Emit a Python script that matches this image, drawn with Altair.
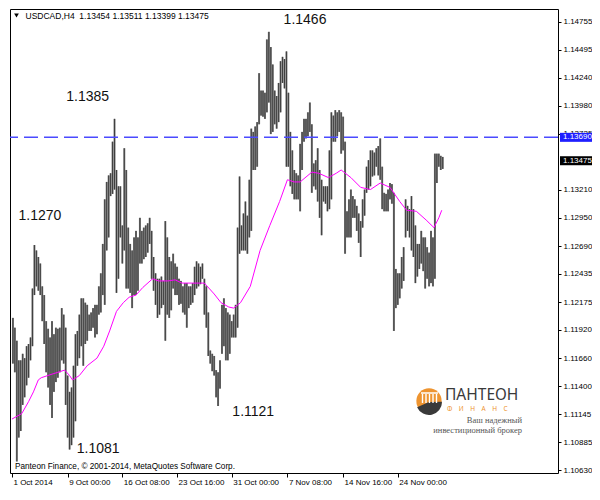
import altair as alt
import pandas as pd

# ---- data (H4 bars, high / low) ----
HIGH = [
    1.1203, 1.1194, 1.1182, 1.1164, 1.1164, 1.1170, 1.1166, 1.1177, 1.1179, 1.1185,
    1.1230, 1.1270, 1.1265, 1.1259, 1.1253, 1.1232, 1.1224, 1.1200, 1.1193, 1.1185,
    1.1200, 1.1188, 1.1194, 1.1193, 1.1194, 1.1212, 1.1206, 1.1194, 1.1150, 1.1135,
    1.1139, 1.1159, 1.1188, 1.1191, 1.1206, 1.1221, 1.1221, 1.1217, 1.1215, 1.1206,
    1.1208, 1.1212, 1.1215, 1.1215, 1.1232, 1.1244, 1.1271, 1.1312, 1.1328, 1.1334,
    1.1336, 1.1365, 1.1386, 1.1339, 1.1324, 1.1324, 1.1288, 1.1359, 1.1339, 1.1286,
    1.1271, 1.1265, 1.1277, 1.1283, 1.1277, 1.1295, 1.1283, 1.1286, 1.1288, 1.1290,
    1.1295, 1.1283, 1.1259, 1.1244, 1.1239, 1.1239, 1.1241, 1.1237, 1.1292, 1.1277,
    1.1259, 1.1255, 1.1262, 1.1253, 1.1250, 1.1239, 1.1237, 1.1232, 1.1235, 1.1235,
    1.1232, 1.1232, 1.1235, 1.1250, 1.1255, 1.1253, 1.1250, 1.1253, 1.1239, 1.1232,
    1.1208, 1.1173, 1.1170, 1.1168, 1.1155, 1.1153, 1.1164, 1.1215, 1.1221, 1.1212,
    1.1208, 1.1206, 1.1200, 1.1206, 1.1215, 1.1286, 1.1333, 1.1288, 1.1299, 1.1310,
    1.1297, 1.1330, 1.1377, 1.1374, 1.1379, 1.1383, 1.1428, 1.1412, 1.1412, 1.1410,
    1.1459, 1.1466, 1.1452, 1.1436, 1.1412, 1.1407, 1.1419, 1.1439, 1.1443, 1.1441,
    1.1448, 1.1410, 1.1374, 1.1357, 1.1339, 1.1336, 1.1334, 1.1363, 1.1374, 1.1386,
    1.1386, 1.1392, 1.1401, 1.1381, 1.1345, 1.1348, 1.1359, 1.1339, 1.1330, 1.1324,
    1.1324, 1.1324, 1.1357, 1.1392, 1.1389, 1.1394, 1.1392, 1.1394, 1.1392, 1.1388,
    1.1365, 1.1301, 1.1312, 1.1321, 1.1315, 1.1312, 1.1306, 1.1299, 1.1292, 1.1312,
    1.1321, 1.1342, 1.1348, 1.1357, 1.1357, 1.1355, 1.1359, 1.1361, 1.1368, 1.1342,
    1.1318, 1.1317, 1.1321, 1.1327, 1.1326, 1.1318, 1.1248, 1.1244, 1.1244, 1.1259,
    1.1268, 1.1312, 1.1306, 1.1303, 1.1315, 1.1303, 1.1288, 1.1271, 1.1271, 1.1283,
    1.1277, 1.1277, 1.1268, 1.1263, 1.1283, 1.1277, 1.1354, 1.1354, 1.1354, 1.1352,
    1.1351,
]
LOW = [
    1.1161, 1.1153, 1.1071, 1.1093, 1.1099, 1.1123, 1.1130, 1.1141, 1.1148, 1.1164,
    1.1177, 1.1224, 1.1232, 1.1228, 1.1224, 1.1200, 1.1179, 1.1153, 1.1139, 1.1123,
    1.1111, 1.1135, 1.1144, 1.1148, 1.1153, 1.1164, 1.1161, 1.1123, 1.1093, 1.1082,
    1.1086, 1.1093, 1.1108, 1.1159, 1.1166, 1.1177, 1.1159, 1.1179, 1.1182, 1.1191,
    1.1191, 1.1194, 1.1185, 1.1188, 1.1206, 1.1208, 1.1224, 1.1215, 1.1265, 1.1277,
    1.1315, 1.1317, 1.1321, 1.1226, 1.1239, 1.1277, 1.1253, 1.1265, 1.1230, 1.1230,
    1.1226, 1.1212, 1.1224, 1.1224, 1.1228, 1.1253, 1.1253, 1.1257, 1.1259, 1.1263,
    1.1271, 1.1239, 1.1228, 1.1215, 1.1203, 1.1206, 1.1212, 1.1215, 1.1182, 1.1206,
    1.1203, 1.1210, 1.1230, 1.1224, 1.1224, 1.1215, 1.1216, 1.1208, 1.1206, 1.1194,
    1.1212, 1.1215, 1.1217, 1.1224, 1.1230, 1.1232, 1.1234, 1.1239, 1.1206, 1.1194,
    1.1168, 1.1161, 1.1154, 1.1150, 1.1130, 1.1122, 1.1138, 1.1170, 1.1177, 1.1164,
    1.1164, 1.1170, 1.1185, 1.1185, 1.1185, 1.1194, 1.1262, 1.1265, 1.1265, 1.1265,
    1.1262, 1.1277, 1.1283, 1.1339, 1.1339, 1.1342, 1.1381, 1.1389, 1.1388, 1.1386,
    1.1392, 1.1401, 1.1372, 1.1374, 1.1381, 1.1377, 1.1383, 1.1392, 1.1419, 1.1414,
    1.1342, 1.1342, 1.1324, 1.1317, 1.1312, 1.1312, 1.1312, 1.1301, 1.1339, 1.1365,
    1.1368, 1.1370, 1.1374, 1.1318, 1.1324, 1.1321, 1.1310, 1.1295, 1.1279, 1.1310,
    1.1308, 1.1301, 1.1303, 1.1312, 1.1365, 1.1365, 1.1370, 1.1374, 1.1354, 1.1357,
    1.1262, 1.1277, 1.1277, 1.1277, 1.1295, 1.1295, 1.1283, 1.1272, 1.1259, 1.1286,
    1.1297, 1.1318, 1.1321, 1.1324, 1.1333, 1.1334, 1.1342, 1.1334, 1.1330, 1.1303,
    1.1301, 1.1301, 1.1301, 1.1312, 1.1308, 1.1191, 1.1212, 1.1215, 1.1221, 1.1230,
    1.1237, 1.1277, 1.1283, 1.1277, 1.1265, 1.1259, 1.1235, 1.1241, 1.1248, 1.1253,
    1.1246, 1.1230, 1.1239, 1.1232, 1.1235, 1.1232, 1.1239, 1.1327, 1.1342, 1.1339,
    1.1340,
]

# moving average (magenta), sampled along the bar index
MA_POS = [
    -0.5, 4.5, 8, 10.5, 13, 14.5, 19.5, 23, 26.5, 29,
    30.5, 34, 38, 43, 46.5, 49.5, 53, 56.5, 59.5, 63,
    66.5, 71.5, 74.5, 79.5, 83, 86.5, 91.5, 98, 103, 106.5,
    110.5, 113, 116.5, 121.5, 126.5, 131.5, 136.5, 140.5, 144, 147,
    153, 156.5, 161.5, 165.5, 168, 173, 178, 183, 188, 193,
    198, 201.5, 206.5, 211.5, 215.5, 218, 219.5,
]
MA_VAL = [
    1.1110, 1.1115, 1.1126, 1.1135, 1.1146, 1.1148, 1.1151, 1.1153, 1.1155, 1.1150,
    1.1146, 1.1150, 1.1159, 1.1166, 1.1177, 1.1191, 1.1209, 1.1217, 1.1222, 1.1224,
    1.1231, 1.1239, 1.1237, 1.1237, 1.1238, 1.1235, 1.1235, 1.1235, 1.1225, 1.1217,
    1.1213, 1.1212, 1.1217, 1.1232, 1.1265, 1.1288, 1.1310, 1.1330, 1.1328, 1.1328,
    1.1337, 1.1336, 1.1332, 1.1336, 1.1339, 1.1332, 1.1323, 1.1321, 1.1327, 1.1323,
    1.1310, 1.1302, 1.1301, 1.1293, 1.1286, 1.1295, 1.1302,
]

Y_TICKS = [1.14755, 1.14495, 1.14240, 1.13980, 1.13725, 1.13210, 1.12950, 1.12690,
           1.12435, 1.12175, 1.11920, 1.11660, 1.11400, 1.11145, 1.10885, 1.10630]
X_TICK_POS = [-0.5, 28, 56, 84, 112, 140.5, 169, 197]
X_TICK_LABELS = ["1 Oct 2014", "9 Oct 00:00", "16 Oct 08:00", "23 Oct 16:00",
                 "31 Oct 00:00", "7 Nov 08:00", "14 Nov 16:00", "24 Nov 00:00"]

LEVEL_PRICE = 1.13690
LAST_PRICE = 1.13475
BOX_LABELS = ["1.13690", "1.13475"]
BOX_COLORS = ["#1f1fff", "#000000"]

ANNOT_TEXT = ["1.1466", "1.1385", "1.1270", "1.1081", "1.1121"]
ANNOT_POS = [149.5, 38.25, 13.85, 43.6, 123]
ANNOT_PRICE = [1.14767, 1.14059, 1.12963, 1.10826, 1.11167]

HEADER = "USDCAD,H4\u00a0 1.13454 1.13511 1.13399 1.13475"
COPYRIGHT = "Panteon Finance, \u00a9 2001-2014, MetaQuotes Software Corp."

# ---- layout ----
W, H = 548, 464
X_DOMAIN = [-1.5, 279]
Y_DOMAIN = [1.10604, 1.14870]
FONT = "Liberation Sans"

xs = alt.Scale(domain=X_DOMAIN, nice=False, zero=False)
ys = alt.Scale(domain=Y_DOMAIN, nice=False, zero=False)

bars = pd.DataFrame({"i": list(range(len(HIGH))), "hi": HIGH, "lo": LOW})
ma = pd.DataFrame({"i": MA_POS, "v": MA_VAL})
ann = pd.DataFrame({"i": ANNOT_POS, "p": ANNOT_PRICE, "t": ANNOT_TEXT})

half = 4.5 * (Y_DOMAIN[1] - Y_DOMAIN[0]) / H
box_prices = [LEVEL_PRICE, LAST_PRICE]
boxes = pd.DataFrame({
    "p": box_prices,
    "top": [p + half for p in box_prices],
    "bot": [p - half for p in box_prices],
    "fill": BOX_COLORS,
    "t": BOX_LABELS,
})

label_expr = ("[" + ",".join("'%s'" % s for s in X_TICK_LABELS) + "][indexof(["
              + ",".join(str(v) for v in X_TICK_POS) + "], datum.value)]")

x_axis = alt.Axis(orient="bottom", values=X_TICK_POS, labelExpr=label_expr,
                  labelAlign="left", labelOffset=1, labelBaseline="top",
                  title=None, grid=False, domain=False, tickSize=4,
                  tickColor="black", labelColor="black", labelFont=FONT,
                  labelFontSize=8, labelPadding=1, labelOverlap=False,
                  labelFlush=False)
y_axis = alt.Axis(orient="right", values=Y_TICKS, format=".5f", title=None,
                  grid=False, domain=False, tickSize=3, tickColor="black",
                  labelColor="black", labelFont=FONT, labelFontSize=8,
                  labelPadding=2, labelOverlap=False, labelFlush=False)


def X(field):
    return alt.X(field, scale=xs, axis=x_axis, title=None)


def Y(field):
    return alt.Y(field, scale=ys, axis=y_axis, title=None)


bar_fill = alt.Chart(bars).mark_rule(color="#7c7c7c", strokeWidth=2).encode(
    x=X("i:Q"), y=Y("lo:Q"), y2="hi:Q")
bar_line = alt.Chart(bars).mark_rule(color="#2e2e2e", strokeWidth=0.8).encode(
    x=X("i:Q"), y=Y("lo:Q"), y2="hi:Q")

ma_layer = alt.Chart(ma).mark_line(color="#ff00ff", strokeWidth=1).encode(
    x=X("i:Q"), y=Y("v:Q"))

level_layer = alt.Chart(pd.DataFrame({"p": [LEVEL_PRICE]})).mark_rule(
    color="#4a4aff", strokeWidth=1.5, strokeDash=[14, 6]
).encode(y=Y("p:Q"))

box_layer = alt.Chart(boxes).mark_rect().encode(
    x=alt.value(550), x2=alt.value(582),
    y=Y("top:Q"), y2="bot:Q",
    color=alt.Color("fill:N", scale=None, legend=None),
)
box_text = alt.Chart(boxes).mark_text(
    align="left", baseline="middle", color="white", font=FONT, fontSize=8
).encode(x=alt.value(553), y=Y("p:Q"), text="t:N")

ann_layer = alt.Chart(ann).mark_text(
    font=FONT, fontSize=14, color="#111111", align="center", baseline="middle"
).encode(x=X("i:Q"), y=Y("p:Q"), text="t:N")

one = pd.DataFrame({"k": [0]})
arrow = alt.Chart(one).mark_point(shape="triangle-down", filled=True, color="black",
                                  size=22, opacity=1).encode(
    x=alt.value(6.5), y=alt.value(6.5))
header = alt.Chart(pd.DataFrame({"t": [HEADER]})).mark_text(
    align="left", baseline="middle", font=FONT, fontSize=8.5, color="black"
).encode(x=alt.value(15.5), y=alt.value(6.5), text="t:N")
copyright_ = alt.Chart(pd.DataFrame({"t": [COPYRIGHT]})).mark_text(
    align="left", baseline="middle", font=FONT, fontSize=8.2, color="black"
).encode(x=alt.value(5), y=alt.value(457.5), text="t:N")

# ---- logo (decoration) ----
logo_circle = alt.Chart(one).mark_point(shape="circle", filled=True, color="#ee9430",
                                        size=640, opacity=1).encode(
    x=alt.value(419), y=alt.value(392))
logo_base = alt.Chart(one).mark_arc(theta=1.55, theta2=4.3, radius=13, radius2=0,
                                    color="#3a3a3a").encode(
    x=alt.value(419), y=alt.value(393))
cols = pd.DataFrame({"px": [412.5, 416, 419.5, 423, 426.5]})
logo_cols = alt.Chart(cols).mark_rule(color="white", strokeWidth=1.4).encode(
    x=alt.X("px:Q", scale=None), y=alt.value(385), y2=alt.value(394))
logo_roof = alt.Chart(one).mark_rule(color="white", strokeWidth=1.5).encode(
    x=alt.value(411), x2=alt.value(428), y=alt.value(384))
logo_name = alt.Chart(pd.DataFrame({"t": ["ПАНТЕОН"]})).mark_text(
    align="left", baseline="middle", font="Noto Sans", fontSize=15.5, color="#3a3a3a"
).encode(x=alt.value(435), y=alt.value(386), text="t:N")
logo_sub = alt.Chart(pd.DataFrame({"t": ["Ф\u2003И\u2003Н\u2003А\u2003Н\u2003С"]})).mark_text(
    align="left", baseline="middle", font="Noto Sans", fontSize=6.5, color="#ee9430"
).encode(x=alt.value(437), y=alt.value(400), text="t:N")
logo_l1 = alt.Chart(pd.DataFrame({"t": ["Ваш надежный"]})).mark_text(
    align="right", baseline="middle", font="Liberation Serif", fontSize=8.5, color="#555555"
).encode(x=alt.value(512), y=alt.value(411), text="t:N")
logo_l2 = alt.Chart(pd.DataFrame({"t": ["инвестиционный брокер"]})).mark_text(
    align="right", baseline="middle", font="Liberation Serif", fontSize=8.5, color="#555555"
).encode(x=alt.value(512), y=alt.value(420.5), text="t:N")

chart = alt.layer(
    bar_fill, bar_line, ma_layer, level_layer, box_layer, box_text, ann_layer,
    arrow, header, copyright_,
    logo_circle, logo_base, logo_cols, logo_roof, logo_name, logo_sub, logo_l1, logo_l2,
).properties(
    width=W, height=H,
    padding={"left": 1, "top": 1, "right": 0, "bottom": 0},
    background="white",
).configure_view(stroke="black", strokeWidth=1)

chart.save("out.html", embed_options={"renderer": "svg", "actions": False})
